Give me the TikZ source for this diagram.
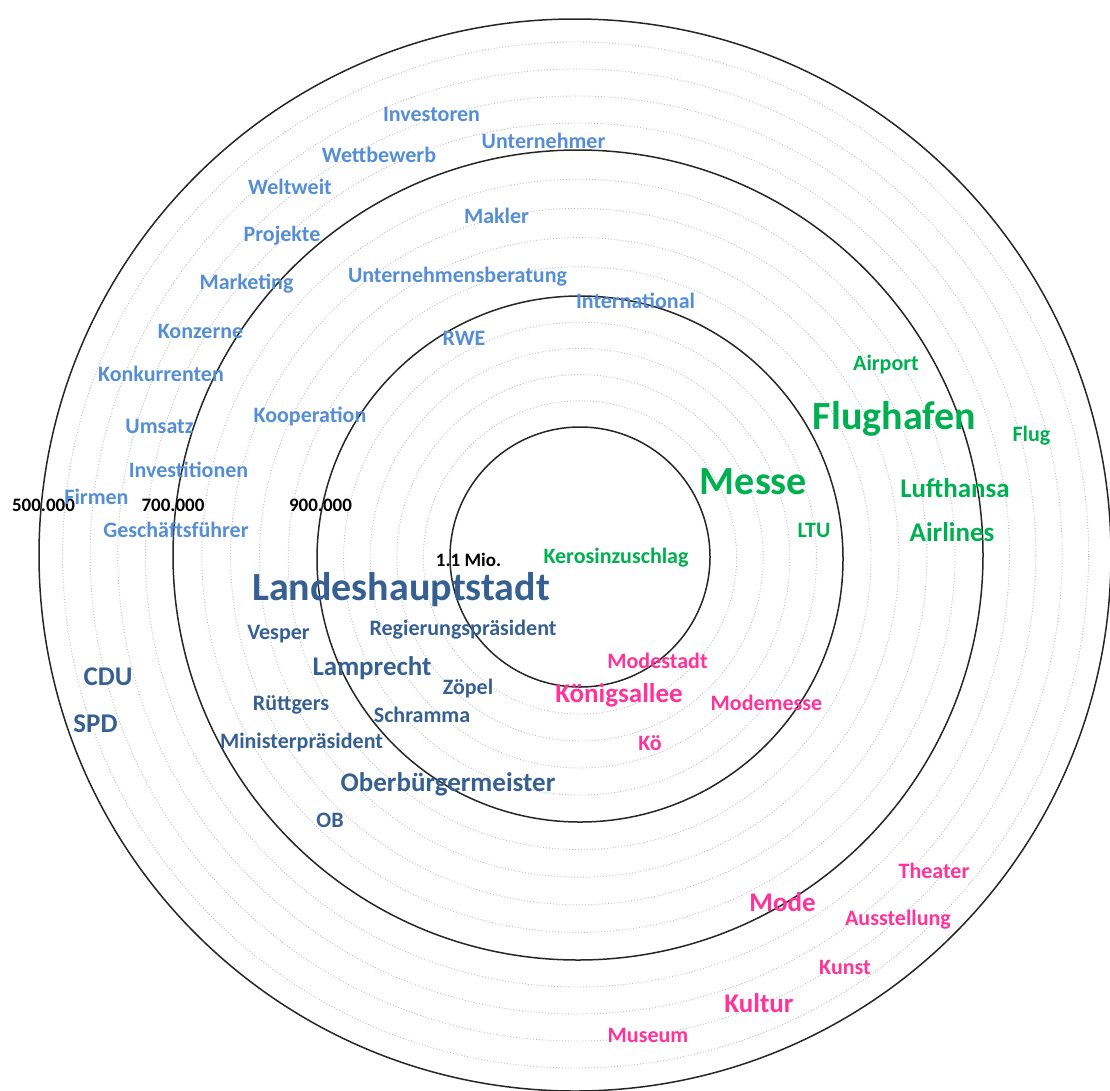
\documentclass[tikz,border=0pt]{standalone}
\usepackage{fontspec}
\setmainfont{Carlito}
\definecolor{lblue}{HTML}{558ED5}
\definecolor{dblue}{HTML}{366092}
\definecolor{lgreen}{HTML}{00B050}
\definecolor{lpink}{HTML}{FF3399}
\definecolor{gridgray}{HTML}{BDBDBD}
\definecolor{ringcol}{HTML}{262626}
\begin{document}
\begin{tikzpicture}[x=1pt,y=-1pt,
  word/.style={anchor=base, inner sep=0pt, outer sep=0pt},
  sz/.style={font=\bfseries\fontsize{22}{24}\selectfont},
  md/.style={font=\bfseries\fontsize{27}{30}\selectfont},
  lg/.style={font=\bfseries\fontsize{40}{44}\selectfont},
  ax/.style={word, text=black, font=\bfseries\fontsize{19}{21}\selectfont},
  lb/.style={word, sz, text=lblue},
  db/.style={word, text=dblue},
  gr/.style={word, text=lgreen},
  pk/.style={word, text=lpink},
  ring/.style={draw=ringcol, line width=1.5pt},
  minor/.style={draw=gridgray, line width=0.9pt, dotted}]
\useasboundingbox (0,0) rectangle (1110,1090);
\clip (0,0) rectangle (1110,1090);
% minor grid (cx, cy, r)
\foreach \cx/\cy/\r in {580/557.4/156.6, 580/557.8/183.2, 580/558.2/209.8, 580/558.6/236.4,
  579.6/558.2/291.4, 579.2/557.4/319.8, 578.8/556.6/348.2, 578.4/555.8/376.6,
  577.4/555/432, 576.8/555/459, 576.2/555/486, 575.6/555/513}
  \draw[minor] (\cx,\cy) circle [radius=\r pt];
% major rings
\coordinate (c1) at (580,557);
\coordinate (c2) at (580,559);
\coordinate (c3) at (578,555);
\coordinate (c4) at (575,555);
\draw[ring] (c1) circle [radius=130pt];
\draw[ring] (c2) circle [radius=263pt];
\draw[ring] (c3) circle [radius=405pt];
\draw[ring] (c4) circle [radius=536pt];
% axis labels
\node[ax] (a500) at (43.5,511) {500.000};
\node[ax] (a700) at (173,511) {700.000};
\node[ax] (a900) at (320.5,511) {900.000};
\node[ax] (a11) at (468.5,566) {1.1 Mio.};
% light blue
\node[lb] (n1) at (431.5,121) {Investoren};
\node[lb] (n2) at (543.5,148) {Unternehmer};
\node[lb] (n3) at (379,162) {Wettbewerb};
\node[lb] (n4) at (290,194) {Weltweit};
\node[lb] (n5) at (496.5,223) {Makler};
\node[lb] (n6) at (282,241) {Projekte};
\node[lb] (n7) at (457.5,282) {Unternehmensberatung};
\node[lb] (n8) at (246.5,289) {Marketing};
\node[lb] (n9) at (635.5,308) {International};
\node[lb] (n10) at (200.5,338) {Konzerne};
\node[lb] (n11) at (464,345) {RWE};
\node[lb] (n12) at (161,381) {Konkurrenten};
\node[lb] (n13) at (310,422) {Kooperation};
\node[lb] (n14) at (159.5,433) {Umsatz};
\node[lb] (n15) at (188.5,477) {Investitionen};
\node[lb] (n16) at (96.5,504) {Firmen};
\node[lb] (n17) at (176,537) {Geschäftsführer};
% dark blue
\node[db,lg] (d1) at (401,600) {Landeshauptstadt};
\node[db,sz] (d2) at (278.5,639) {Vesper};
\node[db,sz] (d3) at (463,635) {Regierungspräsident};
\node[db,md] (d4) at (372,675) {Lamprecht};
\node[db,md] (d5) at (108,685) {CDU};
\node[db,md] (d6) at (95.5,732) {SPD};
\node[db,sz] (d7) at (468,694) {Zöpel};
\node[db,sz] (d8) at (291,710) {Rüttgers};
\node[db,sz] (d9) at (422,722) {Schramma};
\node[db,sz] (d10) at (301.5,748) {Ministerpräsident};
\node[db,md] (d11) at (448,791) {Oberbürgermeister};
\node[db,sz] (d12) at (330,827) {OB};
% green
\node[gr,sz] (g1) at (886,370) {Airport};
\node[gr,lg] (g2) at (894.5,429) {Flughafen};
\node[gr,sz] (g3) at (1031.5,441) {Flug};
\node[gr,lg] (g4) at (753.5,494) {Messe};
\node[gr,md] (g5) at (955,497) {Lufthansa};
\node[gr,sz] (g6) at (814,537) {LTU};
\node[gr,md] (g7) at (952,541) {Airlines};
\node[gr,sz] (g8) at (616,563) {Kerosinzuschlag};
% pink
\node[pk,sz] (p1) at (657.5,668) {Modestadt};
\node[pk,md] (p2) at (619,702) {Königsallee};
\node[pk,sz] (p3) at (766.5,710) {Modemesse};
\node[pk,sz] (p4) at (650,750) {Kö};
\node[pk,sz] (p5) at (934,878) {Theater};
\node[pk,md] (p6) at (782.5,911) {Mode};
\node[pk,sz] (p7) at (898,925) {Ausstellung};
\node[pk,sz] (p8) at (845,974) {Kunst};
\node[pk,md] (p9) at (759,1012) {Kultur};
\node[pk,sz] (p10) at (648,1042) {Museum};
\end{tikzpicture}
\end{document}
